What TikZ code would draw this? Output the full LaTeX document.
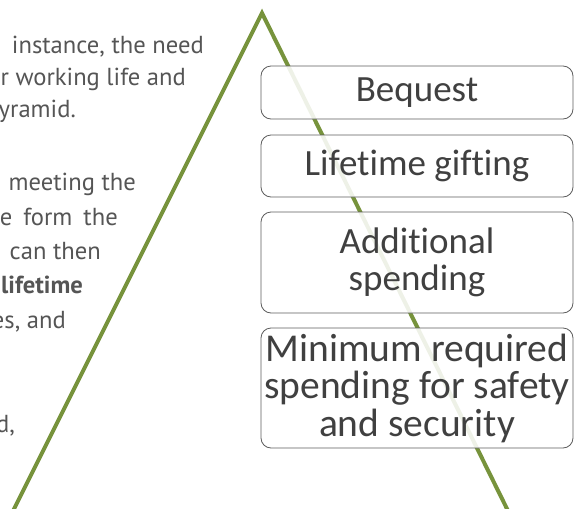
\documentclass[tikz,border=0pt]{standalone}
\usepackage{fontspec}
\setmainfont{Carlito}[Ligatures=NoCommon]
\newfontfamily\notefont{PT Sans}
\definecolor{leaf}{HTML}{77933C}
\definecolor{ink}{HTML}{404040}
\definecolor{body}{HTML}{555555}
\begin{document}
\begin{tikzpicture}[x=1pt,y=-1pt,
  tier/.style={draw=ink!85,line width=0.8pt,rounded corners=10pt,fill=white,fill opacity=0.88,
    text opacity=1,text=ink,font=\fontsize{37}{37.5}\selectfont,align=center,
    minimum width=312pt,inner sep=0pt},
  note/.style={anchor=base east,text=body,font=\notefont\fontsize{24.6}{28}\selectfont,inner sep=0pt}]
\useasboundingbox (0,0) rectangle (574,509);
\clip (0,0) rectangle (574,509);

% text running in from the left
\node[note] (l1) at (204,53) {instance, the need};
\node[note] (l2) at (186,85) {r working life and};
\node[note] (l3) at (76,117) {yramid.};
\node[note] (l4) at (136,190) {meeting the};
\node[note] (l5) at (118,225) {e\hspace{0.45em}form\hspace{0.45em}the};
\node[note] (l6) at (101,259) {can then};
\node[note,font=\notefont\fontsize{24.6}{28}\selectfont\bfseries] (l7) at (83,293) {lifetime};
\node[note] (l8) at (66,328) {es, and};
\node[note] (l9) at (15,432) {d,};

% pyramid
\coordinate (apex) at (262,13);
\coordinate (footL) at (6,525);
\coordinate (footR) at (515,525);
\draw[leaf,line width=4pt,line join=miter] (footL) -- (apex) -- (footR);

% tiers
\node[tier,minimum height=53pt] (bequest) at (417,92.5) {Bequest};
\node[tier,minimum height=62pt] (gifting) at (417,166) {Lifetime gifting};
\node[tier,minimum height=101pt] (extra) at (417,262.5) {Additional\\spending};
\node[tier,minimum height=120pt,font=\fontsize{39.5}{37.5}\selectfont] (basic) at (417,388) {Minimum required\\spending for safety\\and security};
\end{tikzpicture}
\end{document}
